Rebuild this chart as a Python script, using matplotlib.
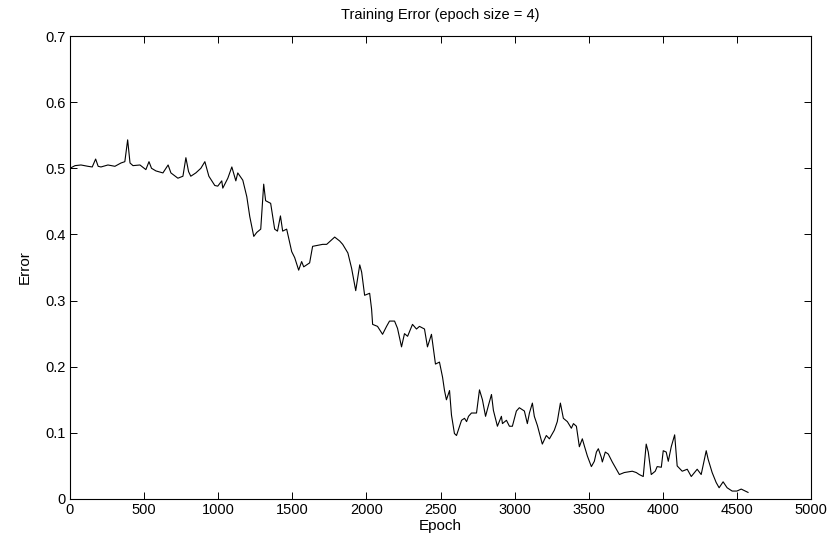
import numpy as np
import matplotlib
matplotlib.use("Agg")
import matplotlib.pyplot as plt

plt.rcParams['font.family'] = ['Liberation Sans', 'DejaVu Sans']

# values
epoch = [0, 34, 74, 121, 150, 173, 190, 209, 256, 303, 344, 370, 389, 405, 425, 472,
         512, 533, 550, 580, 627, 662, 681, 728, 762, 782, 800, 815, 849, 883, 910, 937,
         977, 997, 1024, 1031, 1065, 1092, 1119, 1132, 1166, 1193, 1213, 1240, 1260,
         1287, 1307, 1320, 1354, 1381, 1400, 1420, 1435, 1462, 1496, 1516, 1543, 1563,
         1577, 1617, 1637, 1705, 1732, 1786, 1820, 1840, 1875, 1900, 1928, 1955, 1968,
         1988, 2022, 2035, 2042, 2075, 2109, 2136, 2156, 2190, 2210, 2237, 2257, 2278,
         2311, 2338, 2358, 2392, 2412, 2439, 2466, 2493, 2514, 2527, 2540, 2561, 2574,
         2594, 2608, 2642, 2662, 2676, 2689, 2709, 2743, 2763, 2783, 2804, 2824, 2844,
         2857, 2884, 2911, 2918, 2945, 2965, 2985, 3012, 3032, 3066, 3086, 3100, 3120,
         3133, 3154, 3187, 3214, 3235, 3268, 3288, 3309, 3329, 3356, 3383, 3397, 3417,
         3437, 3457, 3471, 3491, 3518, 3538, 3552, 3565, 3585, 3592, 3612, 3632, 3659,
         3707, 3740, 3794, 3821, 3841, 3868, 3888, 3902, 3922, 3949, 3962, 3990, 4003,
         4023, 4037, 4057, 4080, 4097, 4131, 4165, 4192, 4232, 4259, 4293, 4306, 4333,
         4360, 4380, 4407, 4434, 4468, 4500, 4529, 4556, 4575]
error = [0.500, 0.504, 0.505, 0.503, 0.502, 0.514, 0.503, 0.502, 0.505, 0.503, 0.508,
         0.510, 0.543, 0.508, 0.504, 0.505, 0.498, 0.510, 0.500, 0.496, 0.493, 0.505,
         0.493, 0.485, 0.488, 0.516, 0.495, 0.488, 0.493, 0.500, 0.510, 0.488, 0.474,
         0.473, 0.481, 0.470, 0.485, 0.502, 0.481, 0.493, 0.482, 0.457, 0.427, 0.397,
         0.403, 0.408, 0.476, 0.451, 0.447, 0.408, 0.405, 0.428, 0.405, 0.408, 0.374,
         0.365, 0.346, 0.359, 0.351, 0.357, 0.382, 0.385, 0.385, 0.396, 0.390, 0.385,
         0.372, 0.349, 0.315, 0.354, 0.343, 0.308, 0.311, 0.287, 0.264, 0.261, 0.249,
         0.261, 0.269, 0.269, 0.258, 0.230, 0.250, 0.246, 0.264, 0.257, 0.261, 0.257,
         0.230, 0.249, 0.204, 0.207, 0.184, 0.164, 0.150, 0.164, 0.127, 0.099, 0.096,
         0.119, 0.122, 0.117, 0.125, 0.130, 0.130, 0.165, 0.150, 0.125, 0.142, 0.158,
         0.134, 0.110, 0.125, 0.114, 0.119, 0.110, 0.110, 0.133, 0.138, 0.133, 0.114,
         0.130, 0.145, 0.125, 0.111, 0.083, 0.096, 0.091, 0.104, 0.117, 0.145, 0.122,
         0.117, 0.107, 0.114, 0.110, 0.079, 0.091, 0.080, 0.065, 0.049, 0.057, 0.071,
         0.076, 0.063, 0.056, 0.071, 0.068, 0.056, 0.037, 0.040, 0.042, 0.040, 0.037,
         0.034, 0.083, 0.071, 0.037, 0.042, 0.049, 0.048, 0.073, 0.071, 0.057, 0.079,
         0.097, 0.050, 0.042, 0.045, 0.034, 0.045, 0.037, 0.073, 0.060, 0.040, 0.025,
         0.017, 0.026, 0.017, 0.012, 0.012, 0.015, 0.012, 0.010]

fig = plt.figure(figsize=(8.31, 5.38), dpi=100)
ax = fig.add_axes([70/831, 39/538, 741/831, 463/538])
ax.plot(epoch, error, color='black', linewidth=0.8)

ax.set_xlim(0, 5000)
ax.set_ylim(0, 0.7)
ax.set_xticks(np.arange(0, 5001, 500))
ax.set_yticks(np.arange(0, 0.71, 0.1))
ax.set_yticklabels(['0', '0.1', '0.2', '0.3', '0.4', '0.5', '0.6', '0.7'])
ax.tick_params(direction='in', length=5, top=True, right=True, labelsize=10.5,
               width=0.7, pad=3)
for s in ax.spines.values():
    s.set_linewidth(0.8)

ax.set_title("Training Error (epoch size = 4)", fontsize=10.5, pad=12)
ax.set_xlabel("Epoch", fontsize=11, labelpad=1)
ax.set_ylabel("Error", fontsize=11, labelpad=10)

fig.savefig("out.png", dpi=100)
